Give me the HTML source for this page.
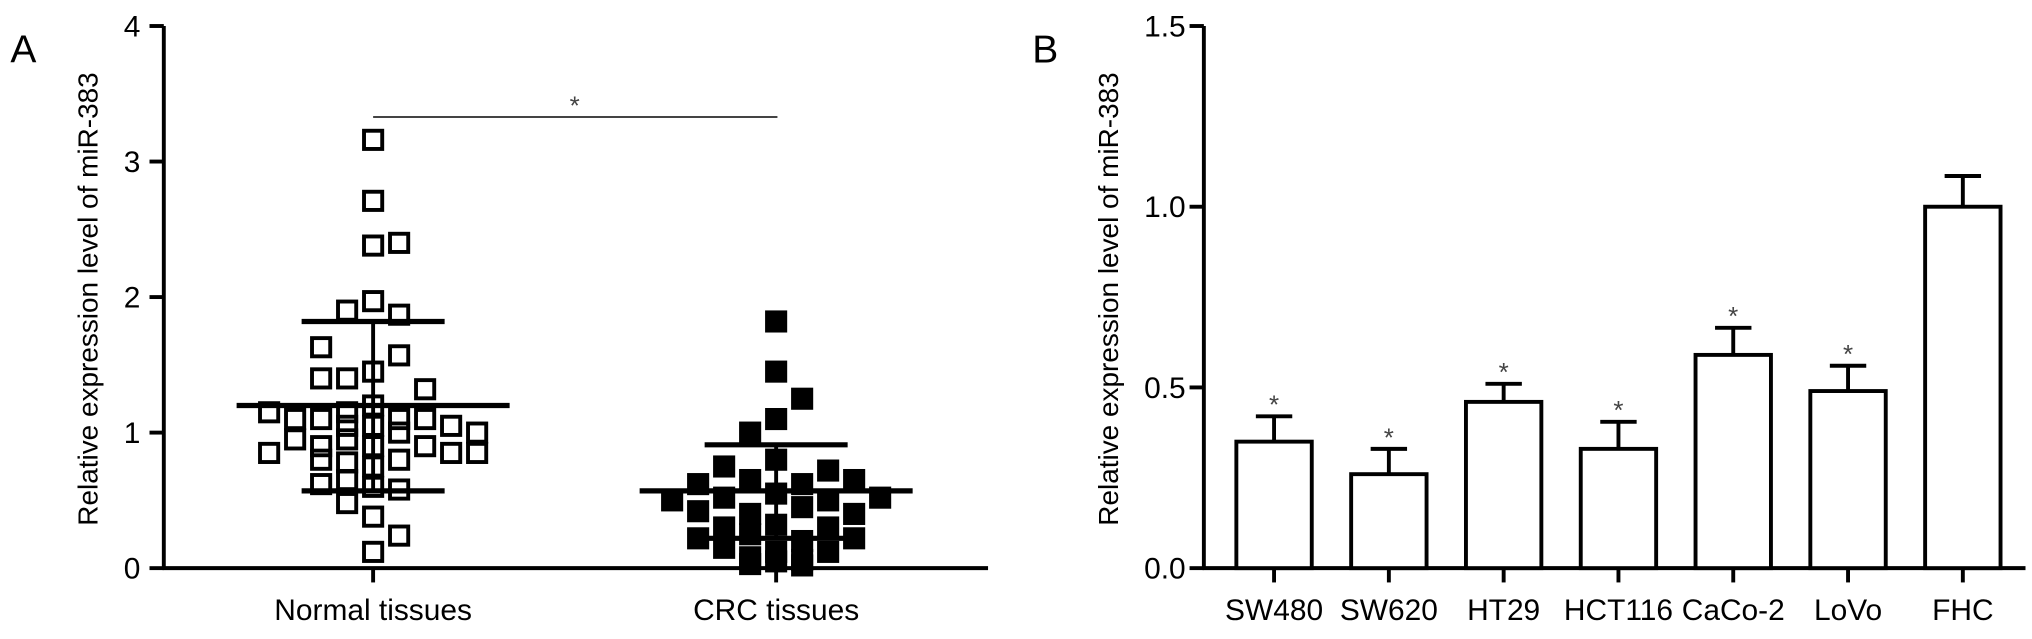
<!DOCTYPE html>
<html><head><meta charset="utf-8"><style>
html,body{margin:0;padding:0;background:#fff;}
svg{display:block;font-family:"Liberation Sans",Arial,sans-serif;}
</style></head><body>
<svg id="fig" width="2032" height="639" viewBox="0 0 1563 491.5" xmlns="http://www.w3.org/2000/svg"></svg>
<script>
// Panel A data
const groupsA = ["Normal tissues", "CRC tissues"];
const normalOffsets = [0,0,0,1,0,-1,1,-2,1,-2,-1,0,-1,0,2,-4,-3,-2,-1,0,1,2,3,4,-4,-3,-2,-1,0,1,2,3,4,-2,-1,0,1,-2,-1,0,1,-1,0,1,0];
const normalValues  = [3.16,2.71,2.38,2.40,1.97,1.90,1.87,1.63,1.57,1.40,1.40,1.45,1.15,1.20,1.32,1.15,1.10,1.10,1.05,1.05,1.10,1.10,1.05,1.00,0.85,0.95,0.90,0.95,0.90,1.00,0.90,0.85,0.85,0.80,0.78,0.75,0.80,0.62,0.65,0.60,0.58,0.48,0.38,0.24,0.12];
const crcOffsets = [0,0,1,-1,0,-2,0,2,-3,-1,1,3,-4,-2,0,2,4,-3,-1,1,3,-2,0,2,-3,-1,1,3,-2,0,2,-1,1,-1,1,0];
const crcValues  = [1.82,1.45,1.25,1.00,1.10,0.75,0.80,0.72,0.62,0.65,0.62,0.65,0.50,0.52,0.55,0.50,0.52,0.42,0.40,0.45,0.40,0.30,0.32,0.30,0.22,0.25,0.20,0.22,0.15,0.12,0.12,0.08,0.06,0.03,0.02,0.05];
const meansA = [1.20, 0.57];
const sdUpperA = [1.82, 0.91];
const sdLowerA = [0.57, 0.22];
const ticksA = [0,1,2,3,4];
// Panel B data
const cellLines = ["SW480","SW620","HT29","HCT116","CaCo-2","LoVo","FHC"];
const barValues = [0.35,0.26,0.46,0.33,0.59,0.49,1.00];
const barErrors = [0.07,0.07,0.05,0.075,0.075,0.07,0.085];
const barSig = [true,true,true,true,true,true,false];
const ticksB = ["0.0","0.5","1.0","1.5"];

const NS="http://www.w3.org/2000/svg";
const svg=document.getElementById('fig');
function mk(tag,attrs,parent){const e=document.createElementNS(NS,tag);for(const k in attrs)e.setAttribute(k,attrs[k]);(parent||svg).appendChild(e);return e;}

const yA=v=>437-v*104.25;
const xA=i=>287+i*310;
const yB=v=>437-v*278;
const xB=i=>980+i*88.3;

let t=mk('text',{x:8,y:48,'font-size':30});t.textContent='A';


let ax=mk('line',{x1:126,y1:20,x2:126,y2:438,stroke:'#000','stroke-width':3});


let xx=mk('line',{x1:125,y1:437,x2:760,y2:437,stroke:'#000','stroke-width':3});


ticksA.forEach(v=>{
  let l=mk('line',{x1:115,y1:yA(v),x2:126,y2:yA(v),stroke:'#000','stroke-width':3});
  
  
  let tx=mk('text',{x:108,y:yA(v)+8,'font-size':23,'text-anchor':'end'});tx.textContent=v;
  
  
});
let ta=mk('text',{transform:'translate(75,230) rotate(-90)','font-size':21.5,'text-anchor':'middle'});ta.textContent='Relative expression level of miR-383';


groupsA.forEach((g,i)=>{
  let l=mk('line',{x1:xA(i),y1:437,x2:xA(i),y2:448,stroke:'#000','stroke-width':3});
  
  
  let tx=mk('text',{x:xA(i),y:477,'font-size':23,'text-anchor':'middle'});tx.textContent=g;
  
  
});
function drawPts(offs,vals,gi,filled,name){
  offs.forEach((o,k)=>{
    let r=mk('rect',{x:xA(gi)+o*20-7,y:yA(vals[k])-7,width:14,height:14,fill:filled?'#000':'none',stroke:'#000','stroke-width':3});
    
    
  });
}
drawPts(normalOffsets,normalValues,0,false,'normal-point');
drawPts(crcOffsets,crcValues,1,true,'crc-point');
meansA.forEach((m,i)=>{
  let v=mk('line',{x1:xA(i),y1:yA(sdUpperA[i]),x2:xA(i),y2:yA(sdLowerA[i]),stroke:'#000','stroke-width':3});
  
  
  let ml=mk('line',{x1:xA(i)-105,y1:yA(m),x2:xA(i)+105,y2:yA(m),stroke:'#000','stroke-width':4});
  
  
  let su=mk('line',{x1:xA(i)-55,y1:yA(sdUpperA[i]),x2:xA(i)+55,y2:yA(sdUpperA[i]),stroke:'#000','stroke-width':4});
  
  
  let sl=mk('line',{x1:xA(i)-55,y1:yA(sdLowerA[i]),x2:xA(i)+55,y2:yA(sdLowerA[i]),stroke:'#000','stroke-width':4});
  
  
});
let sig=mk('line',{x1:287,y1:90,x2:598,y2:90,stroke:'#444','stroke-width':1.5});


let st=mk('text',{x:442,y:88,'font-size':20,'text-anchor':'middle',fill:'#444'});st.textContent='*';



let tb=mk('text',{x:794,y:48,'font-size':30});tb.textContent='B';


let ayb=mk('line',{x1:926,y1:20,x2:926,y2:438,stroke:'#000','stroke-width':3});


let axb=mk('line',{x1:925,y1:437,x2:1558,y2:437,stroke:'#000','stroke-width':3});


ticksB.forEach(s=>{
  const v=parseFloat(s);
  let l=mk('line',{x1:915,y1:yB(v),x2:926,y2:yB(v),stroke:'#000','stroke-width':3});
  
  
  let tx=mk('text',{x:912,y:yB(v)+8,'font-size':23,'text-anchor':'end'});tx.textContent=s;
  
  
});
let tbt=mk('text',{transform:'translate(860,230) rotate(-90)','font-size':21.5,'text-anchor':'middle'});tbt.textContent='Relative expression level of miR-383';


cellLines.forEach((c,i)=>{
  const cx=xB(i),top=yB(barValues[i]),et=yB(barValues[i]+barErrors[i]);
  let e=mk('line',{x1:cx,y1:top,x2:cx,y2:et,stroke:'#000','stroke-width':3});
  
  
  let cap=mk('line',{x1:cx-14,y1:et,x2:cx+14,y2:et,stroke:'#000','stroke-width':3});
  
  
  let r=mk('rect',{x:cx-29,y:top,width:58,height:437-top,fill:'#fff',stroke:'#000','stroke-width':3});
  
  
  if(barSig[i]){
    let s=mk('text',{x:cx,y:et-2,'font-size':20,'text-anchor':'middle',fill:'#444'});s.textContent='*';
    
    
  }
  let l=mk('line',{x1:cx,y1:437,x2:cx,y2:448,stroke:'#000','stroke-width':3});
  
  
  let tx=mk('text',{x:cx,y:477,'font-size':23,'text-anchor':'middle'});tx.textContent=c;
  
  
});
</script>
</body></html>
